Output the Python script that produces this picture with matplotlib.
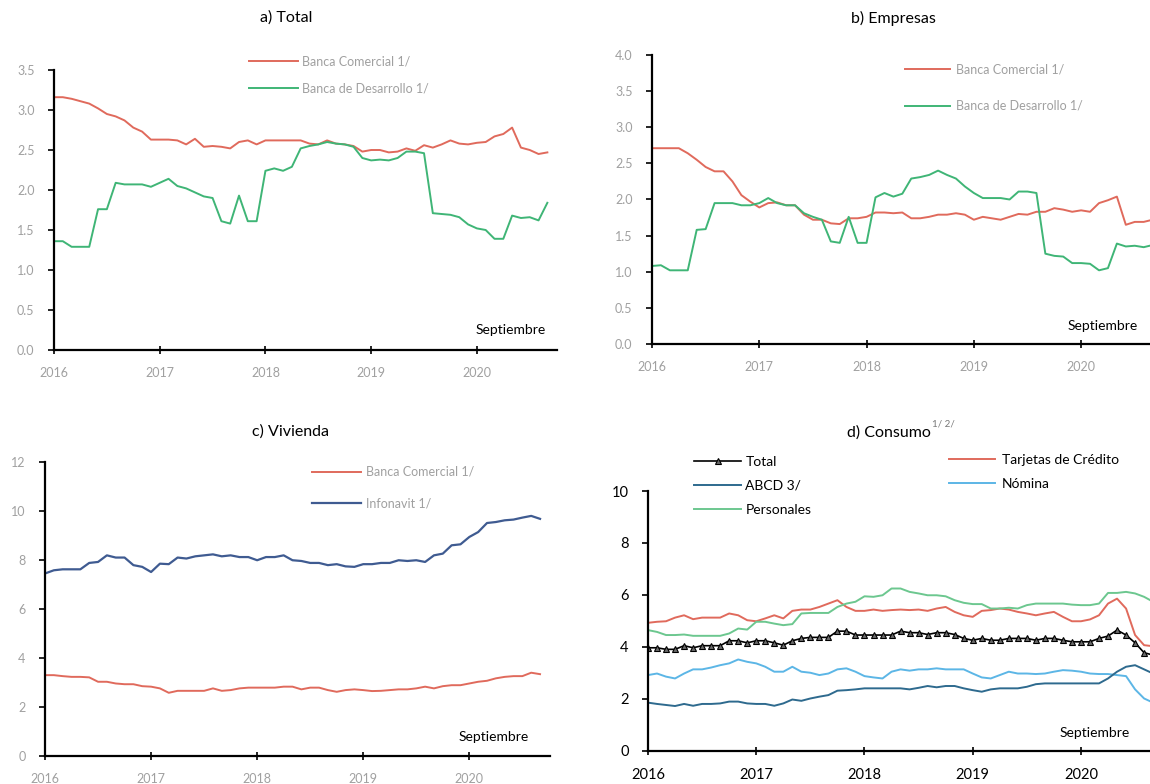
import matplotlib
matplotlib.use('Agg')
import matplotlib.pyplot as plt
import numpy as np

plt.rcParams['font.family'] = ['Lato', 'DejaVu Sans']

W, H = 1150, 784

# monthly series, Jan 2016 - Sep 2020
years = ['2016', '2017', '2018', '2019', '2020']

a_comercial = [3.16, 3.16, 3.14, 3.11, 3.08, 3.02, 2.95, 2.92, 2.87, 2.78,
               2.73, 2.63, 2.63, 2.63, 2.62, 2.57, 2.64, 2.54, 2.55, 2.54,
               2.52, 2.60, 2.62, 2.57, 2.62, 2.62, 2.62, 2.62, 2.62, 2.58,
               2.57, 2.62, 2.58, 2.57, 2.55, 2.48, 2.50, 2.50, 2.47, 2.48,
               2.52, 2.49, 2.56, 2.53, 2.57, 2.62, 2.58, 2.57, 2.59, 2.60,
               2.67, 2.70, 2.78, 2.53, 2.50, 2.45, 2.47]
a_desarrollo = [1.36, 1.36, 1.29, 1.29, 1.29, 1.76, 1.76, 2.09, 2.07, 2.07,
                2.07, 2.04, 2.09, 2.14, 2.05, 2.02, 1.97, 1.92, 1.90, 1.61,
                1.58, 1.93, 1.61, 1.61, 2.24, 2.27, 2.24, 2.29, 2.52, 2.55,
                2.57, 2.60, 2.58, 2.57, 2.54, 2.40, 2.37, 2.38, 2.37, 2.40,
                2.48, 2.48, 2.46, 1.71, 1.70, 1.69, 1.66, 1.57, 1.52, 1.50,
                1.39, 1.39, 1.68, 1.65, 1.66, 1.62, 1.84]

b_comercial = [2.71, 2.71, 2.71, 2.71, 2.64, 2.55, 2.45, 2.39, 2.39, 2.25,
               2.06, 1.97, 1.89, 1.95, 1.96, 1.92, 1.92, 1.79, 1.72, 1.72,
               1.67, 1.66, 1.74, 1.74, 1.76, 1.82, 1.82, 1.81, 1.82, 1.74,
               1.74, 1.76, 1.79, 1.79, 1.81, 1.79, 1.72, 1.76, 1.74, 1.72,
               1.76, 1.80, 1.79, 1.83, 1.83, 1.88, 1.86, 1.83, 1.85, 1.83,
               1.95, 1.99, 2.04, 1.65, 1.69, 1.69, 1.72]
b_desarrollo = [1.08, 1.09, 1.02, 1.02, 1.02, 1.58, 1.59, 1.95, 1.95, 1.95,
                1.92, 1.92, 1.95, 2.02, 1.95, 1.92, 1.92, 1.81, 1.76, 1.72,
                1.42, 1.40, 1.76, 1.40, 1.40, 2.03, 2.09, 2.04, 2.08, 2.29,
                2.31, 2.34, 2.40, 2.34, 2.29, 2.18, 2.09, 2.02, 2.02, 2.02,
                2.00, 2.11, 2.11, 2.09, 1.25, 1.22, 1.21, 1.12, 1.12, 1.11,
                1.02, 1.05, 1.39, 1.35, 1.36, 1.34, 1.37]

c_comercial = [3.30, 3.30, 3.26, 3.23, 3.23, 3.21, 3.03, 3.03, 2.96, 2.93,
               2.93, 2.85, 2.83, 2.76, 2.58, 2.66, 2.66, 2.66, 2.66, 2.76,
               2.66, 2.69, 2.76, 2.79, 2.79, 2.79, 2.79, 2.83, 2.83, 2.72,
               2.79, 2.79, 2.69, 2.62, 2.69, 2.72, 2.69, 2.65, 2.66, 2.69,
               2.72, 2.72, 2.76, 2.83, 2.76, 2.85, 2.89, 2.89, 2.96, 3.03,
               3.07, 3.17, 3.23, 3.26, 3.26, 3.40, 3.34]
c_infonavit = [7.45, 7.58, 7.62, 7.62, 7.62, 7.88, 7.92, 8.19, 8.10, 8.10,
               7.79, 7.72, 7.51, 7.85, 7.83, 8.10, 8.06, 8.15, 8.19, 8.23,
               8.15, 8.19, 8.12, 8.12, 7.99, 8.12, 8.12, 8.19, 7.99, 7.96,
               7.88, 7.88, 7.79, 7.83, 7.74, 7.72, 7.83, 7.83, 7.88, 7.88,
               7.99, 7.96, 7.99, 7.92, 8.19, 8.26, 8.60, 8.64, 8.94, 9.14,
               9.51, 9.55, 9.62, 9.65, 9.73, 9.80, 9.68]

d_total = [3.97, 3.97, 3.91, 3.91, 4.05, 3.97, 4.05, 4.05, 4.05, 4.24,
           4.24, 4.16, 4.24, 4.24, 4.16, 4.07, 4.24, 4.33, 4.37, 4.37,
           4.37, 4.61, 4.61, 4.46, 4.46, 4.46, 4.46, 4.46, 4.61, 4.55,
           4.55, 4.48, 4.55, 4.55, 4.48, 4.33, 4.26, 4.33, 4.26, 4.26,
           4.33, 4.33, 4.33, 4.26, 4.33, 4.33, 4.26, 4.20, 4.20, 4.20,
           4.33, 4.42, 4.65, 4.46, 4.16, 3.78, 3.69]
d_tarjetas = [4.93, 4.97, 4.99, 5.13, 5.22, 5.07, 5.13, 5.13, 5.13, 5.29,
              5.22, 5.03, 4.99, 5.10, 5.22, 5.10, 5.39, 5.44, 5.44, 5.54,
              5.67, 5.80, 5.54, 5.39, 5.39, 5.44, 5.39, 5.42, 5.44, 5.42,
              5.44, 5.39, 5.48, 5.54, 5.35, 5.22, 5.16, 5.39, 5.42, 5.48,
              5.44, 5.35, 5.29, 5.22, 5.29, 5.35, 5.16, 4.99, 4.99, 5.06,
              5.22, 5.67, 5.86, 5.48, 4.46, 4.07, 4.03]
d_personales = [4.65, 4.58, 4.46, 4.46, 4.48, 4.43, 4.43, 4.43, 4.43, 4.52,
                4.71, 4.67, 4.97, 4.97, 4.90, 4.84, 4.88, 5.29, 5.31, 5.31,
                5.31, 5.54, 5.67, 5.74, 5.95, 5.93, 5.99, 6.25, 6.25, 6.12,
                6.06, 5.99, 5.99, 5.95, 5.80, 5.70, 5.65, 5.65, 5.48, 5.48,
                5.51, 5.48, 5.61, 5.67, 5.67, 5.67, 5.67, 5.63, 5.61, 5.61,
                5.67, 6.08, 6.08, 6.12, 6.06, 5.93, 5.74]
d_nomina = [2.92, 2.98, 2.86, 2.79, 2.98, 3.14, 3.14, 3.21, 3.30, 3.37,
            3.52, 3.43, 3.37, 3.24, 3.05, 3.05, 3.24, 3.05, 3.01, 2.92,
            2.98, 3.14, 3.18, 3.05, 2.88, 2.83, 2.79, 3.05, 3.14, 3.09,
            3.14, 3.14, 3.18, 3.14, 3.14, 3.14, 2.98, 2.83, 2.79, 2.92,
            3.05, 2.98, 2.98, 2.96, 2.98, 3.05, 3.11, 3.09, 3.05, 2.98,
            2.96, 2.96, 2.92, 2.88, 2.37, 2.02, 1.86]
d_abcd = [1.86, 1.81, 1.77, 1.73, 1.81, 1.74, 1.81, 1.81, 1.83, 1.90,
          1.90, 1.83, 1.81, 1.81, 1.74, 1.83, 1.98, 1.93, 2.02, 2.09,
          2.15, 2.32, 2.34, 2.37, 2.41, 2.41, 2.41, 2.41, 2.41, 2.37,
          2.43, 2.50, 2.45, 2.50, 2.50, 2.41, 2.34, 2.28, 2.37, 2.41,
          2.41, 2.41, 2.47, 2.57, 2.60, 2.60, 2.60, 2.60, 2.60, 2.60,
          2.60, 2.79, 3.05, 3.24, 3.30, 3.14, 2.98]

months = np.arange(len(a_comercial))

RED = '#e06a5c'
GREEN = '#3fb576'
BLUE = '#3f5b91'
LGREEN = '#6cc78f'
LBLUE = '#5cb6e6'
DBLUE = '#2e6a8e'
GRAY = '#a0a0a0'


def make_axes(x0, top, bottom, px_month, xmax):
    # pixel layout -> figure fraction
    width = xmax * px_month
    return fig.add_axes([x0 / W, 1 - bottom / H, width / W, (bottom - top) / H])


def style(ax, ymax, ystep, fmt, color, size):
    ax.set_ylim(0, ymax)
    ax.set_yticks(np.arange(0, ymax + 0.001, ystep))
    ax.set_yticklabels([fmt.format(v) for v in np.arange(0, ymax + 0.001, ystep)])
    ax.set_xticks([0, 12, 24, 36, 48])
    ax.set_xticklabels(years)
    for s in ['top', 'right']:
        ax.spines[s].set_visible(False)
    for s in ['left', 'bottom']:
        ax.spines[s].set_linewidth(1.6)
        ax.spines[s].set_color('black')
    ax.tick_params(axis='y', direction='out', length=4, width=1.2, pad=10,
                   labelcolor=color, labelsize=size)
    ax.tick_params(axis='x', direction='inout', length=6, width=1.2, pad=9,
                   labelcolor=color, labelsize=size)


fig = plt.figure(figsize=(W / 100, H / 100), dpi=100)

# a) Total
ax = make_axes(54, 70, 350, 8.81, 57.1)
ax.set_xlim(0, 57.1)
ax.plot(months, a_comercial, color=RED, lw=1.4, label='Banca Comercial 1/')
ax.plot(months, a_desarrollo, color=GREEN, lw=1.4, label='Banca de Desarrollo 1/')
style(ax, 3.5, 0.5, '{:.1f}', GRAY, 9)
ax.legend(loc='upper left', bbox_to_anchor=(249 / W, 1 - 55 / H), bbox_transform=fig.transFigure,
          frameon=False, fontsize=9, labelcolor=GRAY, handlelength=3.9, handletextpad=0.3,
          labelspacing=1.25, borderpad=0, borderaxespad=0)
fig.text(511 / W, 1 - 330 / H, 'Septiembre', ha='center', va='center', fontsize=10)
fig.text(286 / W, 1 - 18 / H, 'a) Total', ha='center', va='center', fontsize=11.5)

# b) Empresas
ax = make_axes(652, 55, 344, 8.94, 58)
ax.set_xlim(0, 58)
ax.plot(months, b_comercial, color=RED, lw=1.4, label='Banca Comercial 1/')
ax.plot(months, b_desarrollo, color=GREEN, lw=1.4, label='Banca de Desarrollo 1/')
style(ax, 4.0, 0.5, '{:.1f}', GRAY, 9)
ax.legend(loc='upper left', bbox_to_anchor=(905 / W, 1 - 63 / H), bbox_transform=fig.transFigure,
          frameon=False, fontsize=9, labelcolor=GRAY, handlelength=3.6, handletextpad=0.5,
          labelspacing=2.0, borderpad=0, borderaxespad=0)
fig.text(1103 / W, 1 - 326 / H, 'Septiembre', ha='center', va='center', fontsize=10)
fig.text(893 / W, 1 - 18 / H, 'b) Empresas', ha='center', va='center', fontsize=11.5)

# c) Vivienda
ax = make_axes(45, 462, 756, 8.84, 57.1)
ax.set_xlim(0, 57.1)
ax.plot(months, c_comercial, color=RED, lw=1.4, label='Banca Comercial 1/')
ax.plot(months, c_infonavit, color=BLUE, lw=1.6, label='Infonavit 1/')
style(ax, 12, 2, '{:.0f}', GRAY, 9)
ax.legend(loc='upper left', bbox_to_anchor=(312 / W, 1 - 466 / H), bbox_transform=fig.transFigure,
          frameon=False, fontsize=9, labelcolor=GRAY, handlelength=3.9, handletextpad=0.4,
          labelspacing=1.55, borderpad=0, borderaxespad=0)
fig.text(494 / W, 1 - 737 / H, 'Septiembre', ha='center', va='center', fontsize=10)
fig.text(290 / W, 1 - 432 / H, 'c) Vivienda', ha='center', va='center', fontsize=11.5)

# d) Consumo
ax = make_axes(648, 491, 751, 9.02, 58)
ax.set_xlim(0, 58)
h_tar, = ax.plot(months, d_tarjetas, color=RED, lw=1.4, label='Tarjetas de Crédito')
h_per, = ax.plot(months, d_personales, color=LGREEN, lw=1.4, label='Personales')
h_nom, = ax.plot(months, d_nomina, color=LBLUE, lw=1.4, label='Nómina')
h_abc, = ax.plot(months, d_abcd, color=DBLUE, lw=1.4, label='ABCD 3/')
h_tot, = ax.plot(months, d_total, color='black', lw=1.2, marker='^', markersize=5,
                 markerfacecolor='#6a6a6a', markeredgecolor='black', markeredgewidth=0.8,
                 label='Total')
style(ax, 10, 2, '{:.0f}', 'black', 10.5)
leg1 = ax.legend(handles=[h_tot, h_abc, h_per], loc='upper left',
                 bbox_to_anchor=(694 / W, 1 - 456 / H), bbox_transform=fig.transFigure,
                 frameon=False, fontsize=10, handlelength=3.4, handletextpad=0.3,
                 labelspacing=0.85, borderpad=0, borderaxespad=0)
ax.add_artist(leg1)
ax.legend(handles=[h_tar, h_nom], loc='upper left',
          bbox_to_anchor=(949 / W, 1 - 454 / H), bbox_transform=fig.transFigure,
          frameon=False, fontsize=10, handlelength=3.3, handletextpad=0.5,
          labelspacing=0.85, borderpad=0, borderaxespad=0)
fig.text(1095 / W, 1 - 733 / H, 'Septiembre', ha='center', va='center', fontsize=10)
fig.text(931 / W, 1 - 433 / H, 'd) Consumo', ha='right', va='center', fontsize=11.5)
fig.text(932 / W, 1 - 424 / H, '1/ 2/', ha='left', va='center', fontsize=7, color='#777777')

fig.savefig('out.png', dpi=100)
